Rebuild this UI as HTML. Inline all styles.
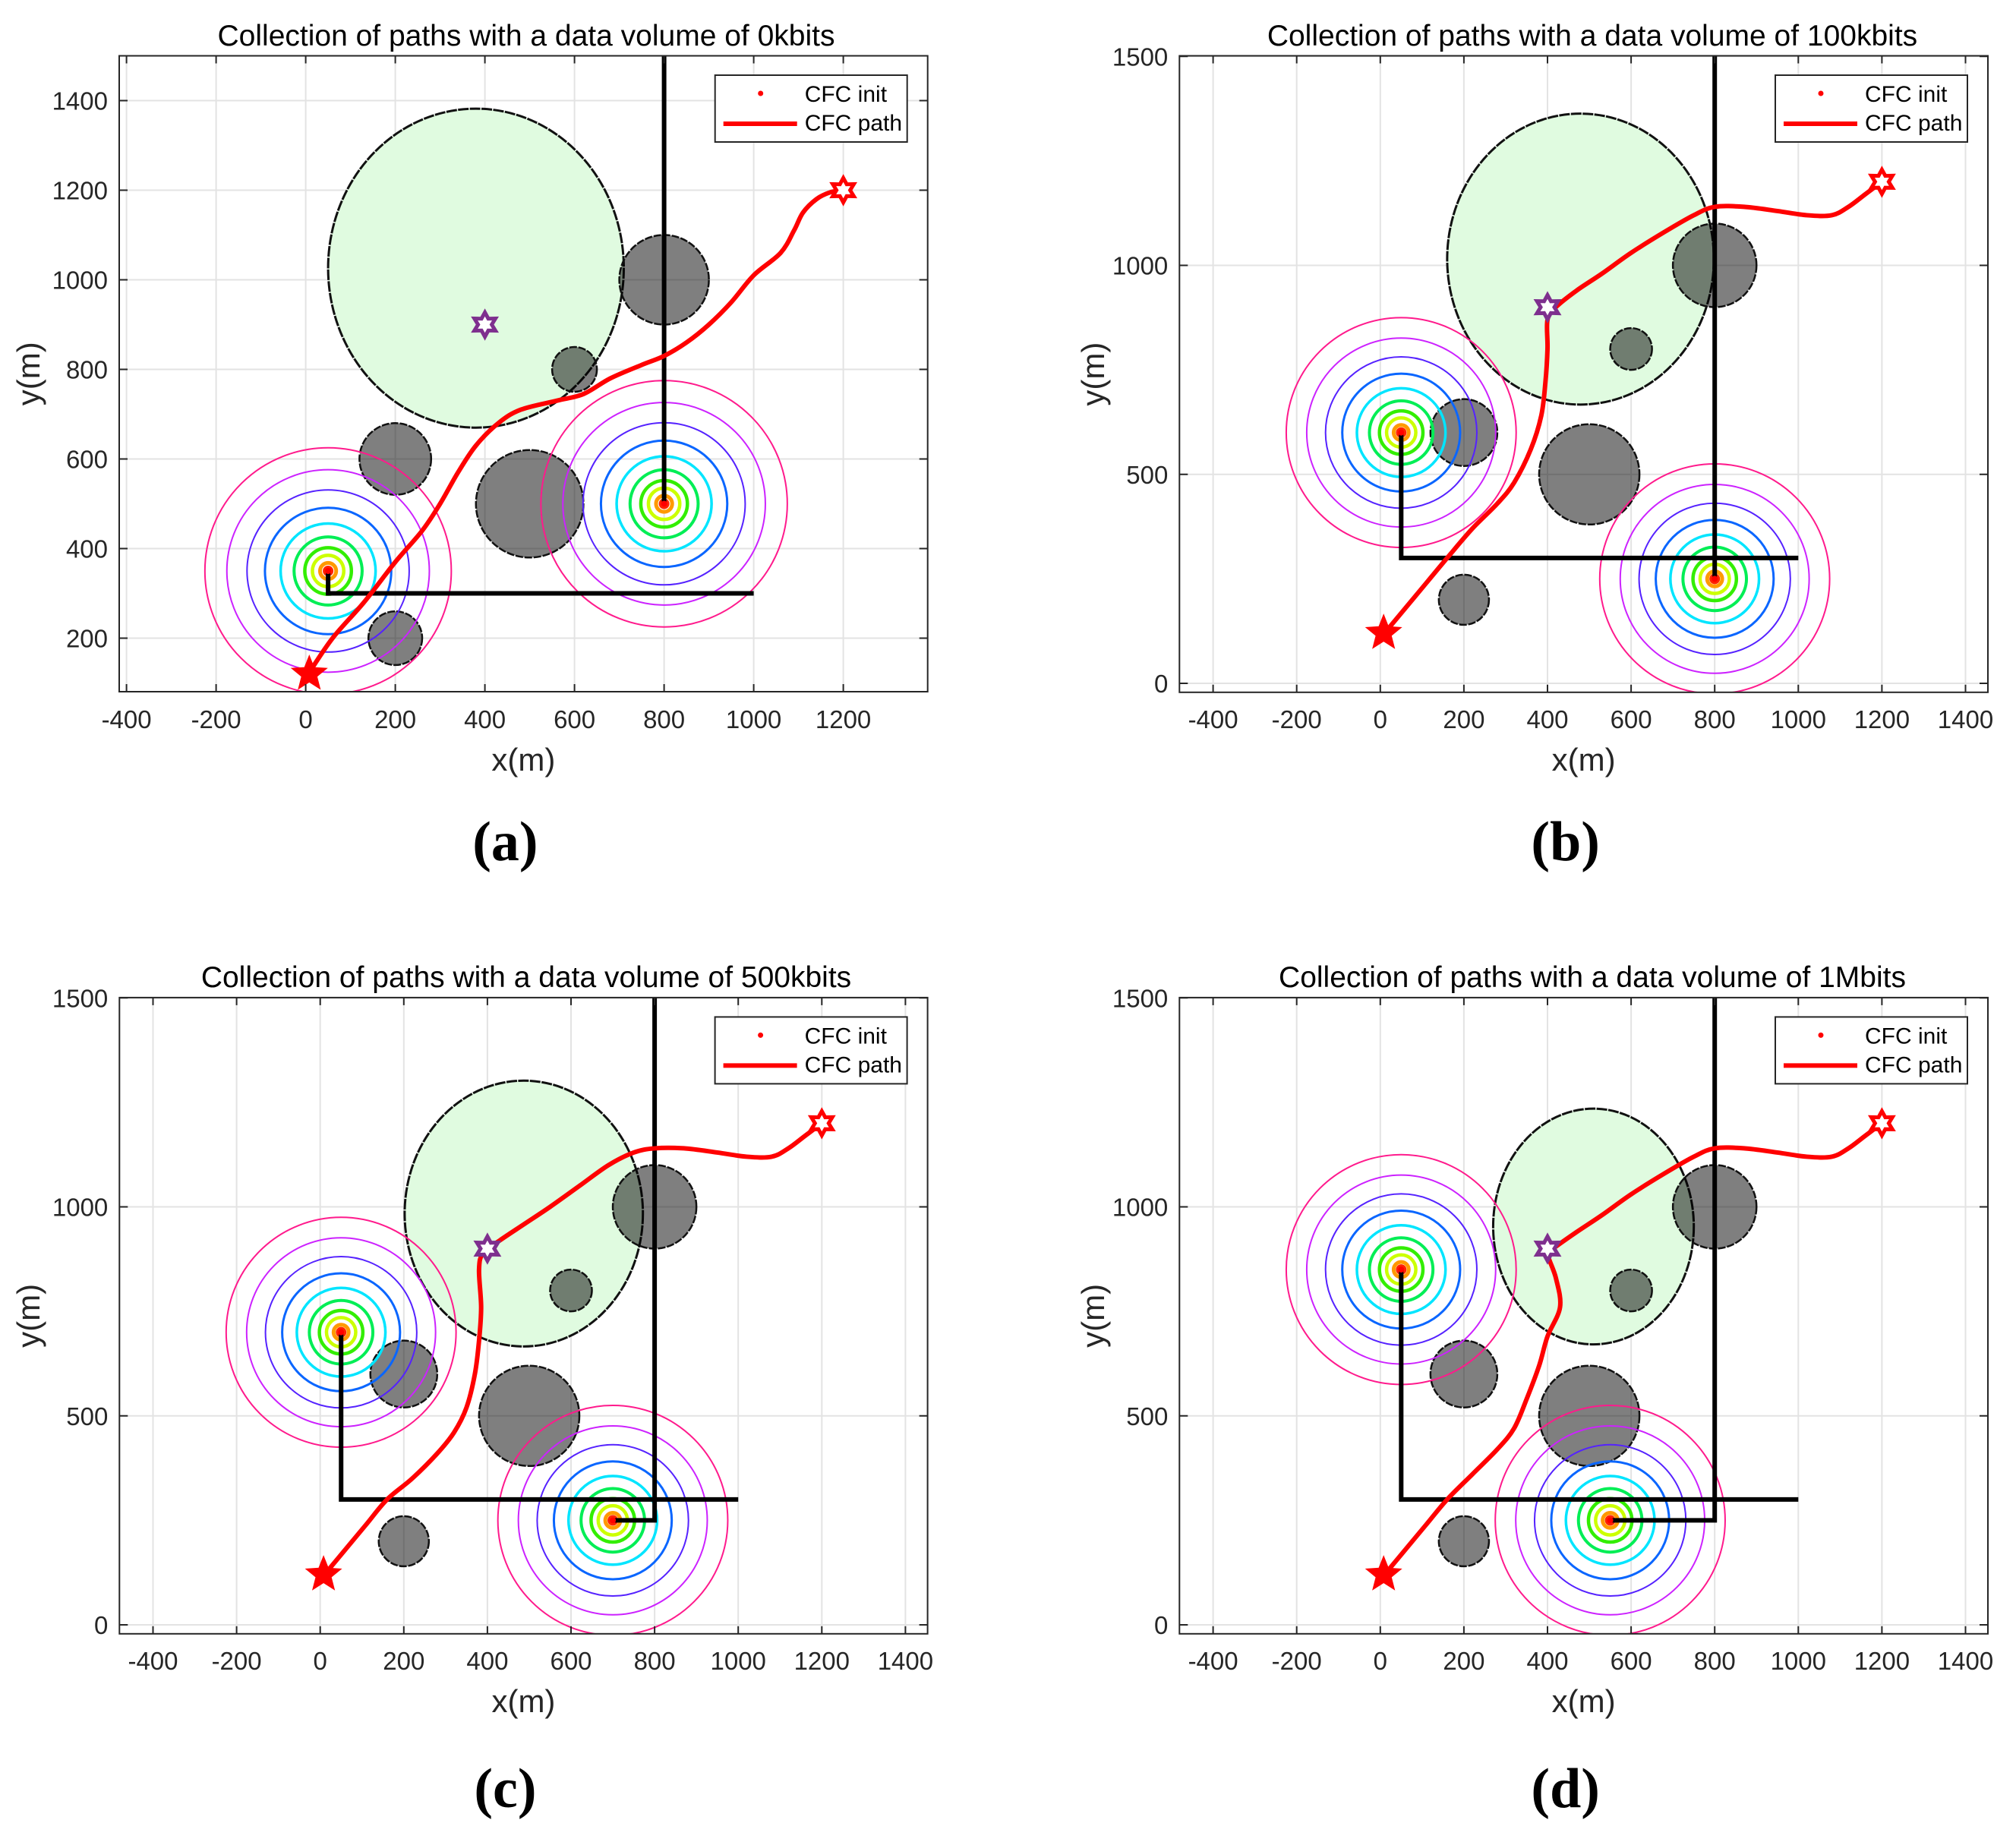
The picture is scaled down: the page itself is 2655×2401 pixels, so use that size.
<!DOCTYPE html>
<html><head><meta charset="utf-8"><style>
html,body{margin:0;padding:0;background:#fff;}
svg{display:block;}
text{font-family:"Liberation Sans",Arial,sans-serif;}
</style></head><body>
<svg id="fig" width="2655" height="2401" viewBox="0 0 2655 2401" xmlns="http://www.w3.org/2000/svg"></svg>
<script>
// ---------- DATA ----------
const titles = ["Collection of paths with a data volume of 0kbits","Collection of paths with a data volume of 100kbits","Collection of paths with a data volume of 500kbits","Collection of paths with a data volume of 1Mbits"];
const subLabels = ["(a)","(b)","(c)","(d)"];
const xTicksA = [-400,-200,0,200,400,600,800,1000,1200];
const yTicksA = [200,400,600,800,1000,1200,1400];
const xTicksB = [-400,-200,0,200,400,600,800,1000,1200,1400];
const yTicksB = [0,500,1000,1500];
const obstacleX = [800,600,200,500,200];
const obstacleY = [1000,800,600,500,200];
const obstacleR = [100,50,80,120,60];
const contourRadii = [275,226,181,141,106,76,52,35,18];
const regionA = [380,1026,330,356];
const regionB = [479,1015,319,348];
const regionC = [487,984,285,318];
const regionD = [510,953,240,282];
const srcA_x = [50,800], srcA_y = [350,500];
const srcB_x = [50,800], srcB_y = [600,250];
const srcC_x = [50,700], srcC_y = [700,250];
const srcD_x = [50,550], srcD_y = [850,250];
const wireA1_x = [800,800], wireA1_y = [1500,500];
const wireA2_x = [50,50,1000], wireA2_y = [350,300,300];
const wireB1_x = [800,800], wireB1_y = [1500,250];
const wireB2_x = [50,50,1000], wireB2_y = [600,300,300];
const wireC1_x = [800,800,700], wireC1_y = [1500,250,250];
const wireC2_x = [50,50,1000], wireC2_y = [700,300,300];
const wireD1_x = [800,800,550], wireD1_y = [1500,250,250];
const wireD2_x = [50,50,1000], wireD2_y = [850,300,300];
const pathA_x = [7,60,130,200,260,300,340,380,430,480,560,620,680,750,800,850,900,950,1000,1060,1090,1110,1140,1170,1200];
const pathA_y = [122,200,280,370,440,500,570,630,680,710,730,745,780,810,830,860,900,950,1010,1060,1110,1150,1180,1195,1200];
const pathB_x = [10,60,110,160,220,280,320,360,385,395,400,400,420,470,530,600,680,750,800,870,950,1020,1080,1120,1160,1200];
const pathB_y = [120,180,240,300,370,430,480,560,640,720,800,870,900,940,980,1030,1080,1120,1140,1140,1130,1120,1120,1140,1170,1200];
const pathC_x = [10,60,110,160,220,280,320,350,370,380,385,380,390,430,490,550,620,690,750,800,870,950,1020,1080,1120,1160,1200];
const pathC_y = [120,180,240,300,350,410,460,520,600,680,760,850,890,920,960,1000,1050,1100,1130,1140,1140,1130,1120,1120,1140,1170,1200];
const pathD_x = [10,60,110,160,220,280,320,350,380,400,430,420,400,420,470,530,600,680,750,800,870,950,1020,1080,1120,1160,1200];
const pathD_y = [120,180,240,300,360,420,470,540,620,690,760,830,890,905,940,980,1030,1080,1120,1140,1140,1130,1120,1120,1140,1170,1200];
const startPt = [8,120], endPt = [1200,1200], relayPt = [400,900];

// ---------- LAYOUT ----------
const NS = "http://www.w3.org/2000/svg";
const svg = document.getElementById('fig');
const contourColors = ["#ff1a8c","#cc22ff","#5522ff","#0a66ff","#00e5ff","#00ee55","#33ee00","#ccff00","#ff9900"];
const contourWidths = [2,2,2,3,3.5,4,4.5,4.5,5];
const panelCfg = [
 {L:157,R:1221.7,T:73.5,B:911,x0:402.6,y0:958.5,k:0.59,xt:xTicksA,yt:yTicksA,reg:regionA,sx:srcA_x,sy:srcA_y,w1x:wireA1_x,w1y:wireA1_y,w2x:wireA2_x,w2y:wireA2_y,px:pathA_x,py:pathA_y,relay:false,cx:693,titleY:46,tickY:947,xlY:1015,subY:1133,ylX:38},
 {L:1553.3,R:2618,T:73.5,B:911.8,x0:1817.8,y0:900,k:0.5505,xt:xTicksB,yt:yTicksB,reg:regionB,sx:srcB_x,sy:srcB_y,w1x:wireB1_x,w1y:wireB1_y,w2x:wireB2_x,w2y:wireB2_y,px:pathB_x,py:pathB_y,relay:true,cx:2097,titleY:46,tickY:947,xlY:1015,subY:1133,ylX:1440},
 {L:157.3,R:1221.6,T:1313.9,B:2151.8,x0:421.7,y0:2140,k:0.5505,xt:xTicksB,yt:yTicksB,reg:regionC,sx:srcC_x,sy:srcC_y,w1x:wireC1_x,w1y:wireC1_y,w2x:wireC2_x,w2y:wireC2_y,px:pathC_x,py:pathC_y,relay:true,cx:693,titleY:1286,tickY:2187,xlY:2255,subY:2380,ylX:38},
 {L:1553.3,R:2618,T:1313.9,B:2151.8,x0:1817.8,y0:2140,k:0.5505,xt:xTicksB,yt:yTicksB,reg:regionD,sx:srcD_x,sy:srcD_y,w1x:wireD1_x,w1y:wireD1_y,w2x:wireD2_x,w2y:wireD2_y,px:pathD_x,py:pathD_y,relay:true,cx:2097,titleY:1286,tickY:2187,xlY:2255,subY:2380,ylX:1440}
];
function mk(tag, attrs, parent){
  const e = document.createElementNS(NS, tag);
  for (const a in attrs) e.setAttribute(a, attrs[a]);
  (parent||svg).appendChild(e);
  return e;
}
function starPts(cx,cy,n,ro,ri){
  let s=[];
  for(let i=0;i<2*n;i++){const r=i%2?ri:ro;const a=-Math.PI/2+i*Math.PI/n;s.push((cx+r*Math.cos(a)).toFixed(1)+","+(cy+r*Math.sin(a)).toFixed(1));}
  return s.join(" ");
}

panelCfg.forEach((p,i)=>{
  const X = v => p.x0 + p.k*v;
  const Y = v => p.y0 - p.k*v;
  const g = mk('g',{});
  
  
  const clipId='clip'+i;
  const cp = mk('clipPath',{id:clipId},g);
  mk('rect',{x:p.L,y:p.T,width:p.R-p.L,height:p.B-p.T},cp);
  const grid = mk('g',{stroke:'#e3e3e3','stroke-width':2},g);
  
  
  p.xt.forEach(t=>mk('line',{x1:X(t),x2:X(t),y1:p.T,y2:p.B},grid));
  p.yt.forEach(t=>mk('line',{x1:p.L,x2:p.R,y1:Y(t),y2:Y(t)},grid));
  const plot = mk('g',{'clip-path':'url(#'+clipId+')'},g);
  const reg = mk('ellipse',{cx:X(p.reg[0]),cy:Y(p.reg[1]),rx:p.k*p.reg[2],ry:p.k*p.reg[3],fill:'#e0fbe0',stroke:'#111','stroke-width':3,'stroke-dasharray':'14 1.5'},plot);
  
  
  obstacleX.forEach((ox,j)=>{
    const c = mk('circle',{cx:X(ox),cy:Y(obstacleY[j]),r:p.k*obstacleR[j],fill:'rgba(0,0,0,0.5)',stroke:'#111','stroke-width':2.5,'stroke-dasharray':'10 2'},plot);
    
    
  });
  p.sx.forEach((sxv,j)=>{
    const cg = mk('g',{fill:'none'},plot);
    
    
    contourRadii.forEach((r,m)=>mk('circle',{cx:X(sxv),cy:Y(p.sy[j]),r:p.k*r,stroke:contourColors[m],'stroke-width':contourWidths[m]},cg));
    mk('circle',{cx:X(sxv),cy:Y(p.sy[j]),r:7,fill:'#ff2200'},cg);
  });
  [[p.w1x,p.w1y],[p.w2x,p.w2y]].forEach(w=>{
    const pl = mk('polyline',{points:w[0].map((v,j)=>X(v)+','+Y(w[1][j])).join(' '),fill:'none',stroke:'#000','stroke-width':6},plot);
    
    
  });
  p.sx.forEach((sxv,j)=>{
    const d = mk('circle',{cx:X(sxv),cy:Y(p.sy[j]),r:4,fill:'#ff0000'},plot);
    
    
  });
  let dstr = 'M'+X(p.px[0])+','+Y(p.py[0]);
  for(let j=1;j<p.px.length;j++){
    const x0=X(p.px[j-1]),y0=Y(p.py[j-1]),x1=X(p.px[j]),y1=Y(p.py[j]);
    const xm=X(p.px[Math.max(j-2,0)]),ym=Y(p.py[Math.max(j-2,0)]);
    const xn=X(p.px[Math.min(j+1,p.px.length-1)]),yn=Y(p.py[Math.min(j+1,p.py.length-1)]);
    dstr+=' C'+(x0+(x1-xm)/6)+','+(y0+(y1-ym)/6)+' '+(x1-(xn-x0)/6)+','+(y1-(yn-y0)/6)+' '+x1+','+y1;
  }
  const path = mk('path',{d:dstr,fill:'none',stroke:'#ff0000','stroke-width':6,'stroke-linejoin':'round'},plot);
  
  
  const rs = mk('polygon',{points:starPts(X(relayPt[0]),Y(relayPt[1]),6,16,9),fill:'#fff',stroke:'#7e2f8e','stroke-width':5},plot);
  
  
  const es = mk('polygon',{points:starPts(X(endPt[0]),Y(endPt[1]),6,16,9),fill:'#fff',stroke:'#ff0000','stroke-width':5},plot);
  
  
  const ss = mk('polygon',{points:starPts(X(startPt[0]),Y(startPt[1]),5,23,10),fill:'#ff0000',stroke:'#ff0000','stroke-width':2},plot);
  
  
  const ax = mk('g',{stroke:'#262626','stroke-width':2,fill:'none'},g);
  
  
  mk('rect',{x:p.L,y:p.T,width:p.R-p.L,height:p.B-p.T},ax);
  p.xt.forEach(t=>{mk('line',{x1:X(t),x2:X(t),y1:p.B,y2:p.B-10},ax);mk('line',{x1:X(t),x2:X(t),y1:p.T,y2:p.T+10},ax);});
  p.yt.forEach(t=>{mk('line',{x1:p.L,x2:p.L+11,y1:Y(t),y2:Y(t)},ax);mk('line',{x1:p.R,x2:p.R-11,y1:Y(t),y2:Y(t)},ax);});
  p.xt.forEach(t=>{
    const tx = mk('text',{x:X(t),y:p.tickY+12,'font-size':33,'text-anchor':'middle',fill:'#262626'},g);
    tx.textContent=t;
    
    
  });
  p.yt.forEach(t=>{
    const tx = mk('text',{x:p.L-15,y:Y(t)+12,'font-size':33,'text-anchor':'end',fill:'#262626'},g);
    tx.textContent=t;
    
    
  });
  const ti = mk('text',{x:p.cx,y:p.titleY+14,'font-size':39,'text-anchor':'middle',fill:'#000'},g);
  ti.textContent=titles[i];
  
  
  const xl = mk('text',{x:(p.L+p.R)/2,y:p.xlY,'font-size':42,'text-anchor':'middle',fill:'#262626'},g);
  xl.textContent='x(m)';
  
  
  const yc=(p.T+p.B)/2;
  const yl = mk('text',{x:p.ylX+14,y:yc,'font-size':42,'text-anchor':'middle',fill:'#262626',transform:'rotate(-90 '+(p.ylX+14)+' '+yc+')'},g);
  yl.textContent='y(m)';
  
  
  const sl = mk('text',{x:(p.L+p.R)/2-24,y:p.subY,'font-size':74,'font-weight':'bold','text-anchor':'middle',fill:'#000',style:'font-family:"Liberation Serif",serif'},g);
  sl.textContent=subLabels[i];
  
  
  const lx=p.R-280, ly=p.T+25.5;
  const lg = mk('g',{},g);
  
  
  mk('rect',{x:lx,y:ly,width:253,height:88,fill:'#fff',stroke:'#262626','stroke-width':2},lg);
  mk('circle',{cx:lx+60,cy:ly+24,r:3.5,fill:'#ff0000'},lg);
  mk('line',{x1:lx+11,x2:lx+108,y1:ly+64,y2:ly+64,stroke:'#ff0000','stroke-width':6},lg);
  const t1 = mk('text',{x:lx+118,y:ly+35,'font-size':30,fill:'#000'},lg);
  t1.textContent='CFC init';
  
  
  const t2 = mk('text',{x:lx+118,y:ly+73,'font-size':30,fill:'#000'},lg);
  t2.textContent='CFC path';
  
  
});
</script>
</body></html>
